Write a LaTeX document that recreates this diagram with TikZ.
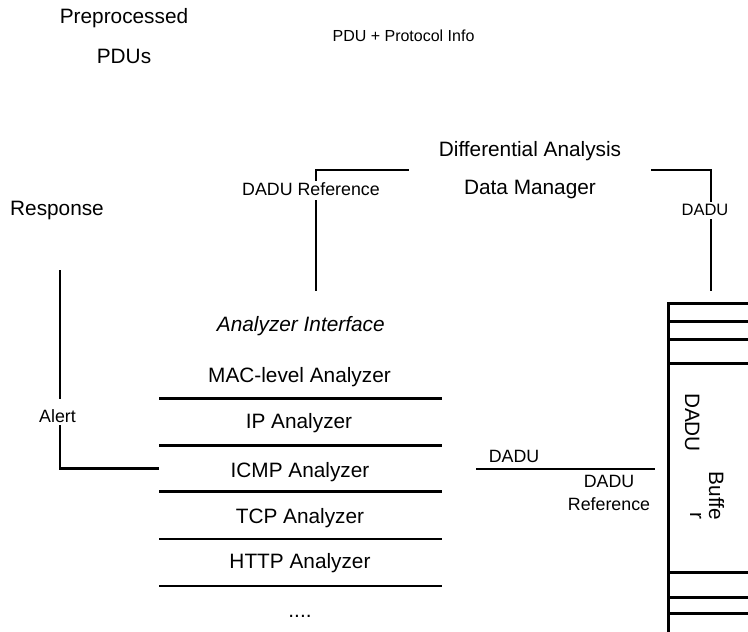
\documentclass[tikz,border=0pt]{standalone}
\usepackage{fontspec}
\setmainfont{Liberation Sans}
\begin{document}
\begin{tikzpicture}[x=1pt,y=-1pt,
  big/.style={font=\fontsize{20.8}{25}\selectfont, inner sep=0pt, anchor=base},
  bigit/.style={font=\fontsize{20.8}{25}\selectfont\itshape, inner sep=0pt, anchor=base},
  small/.style={font=\fontsize{17.8}{21}\selectfont, inner sep=0pt, anchor=base},
  tiny/.style={font=\fontsize{16}{19}\selectfont, inner sep=0pt, anchor=base},
  conn/.style={line width=2.75pt, line join=miter},
  lab/.style={small, fill=white, inner xsep=2pt, inner ysep=0pt},
  rot/.style={big, rotate=-90},
]
\path[use as bounding box] (0,0) rectangle (748,632);

% free texts
\node[big] (pre) at (124,23.5) {Preprocessed};
\node[big] (pdus) at (124,63.5) {PDUs};
\node[tiny] (pinfo) at (403.5,41) {PDU + Protocol Info};
\node[big] (resp) at (57,215) {Response};

% data manager
\node[font=\fontsize{20.8}{37.3}\selectfont, align=center, inner xsep=30pt, inner ysep=0pt]
  (dadm) at (530,170) {Differential Analysis\\Data Manager};

% analyzer stack
\node[bigit] (ai) at (300.8,331.7) {Analyzer Interface};
\node[big] (mac) at (299.5,382) {MAC-level Analyzer};
\node[big] (ip) at (299,428.5) {IP Analyzer};
\node[big] (icmp) at (300,477) {ICMP Analyzer};
\node[big] (tcp) at (300,523) {TCP Analyzer};
\node[big] (http) at (300,568.5) {HTTP Analyzer};
\node[big] (dots) at (300,617) {....};
\foreach \y in {398.3,445.4,491.3,539,586}
  \draw[conn] (159,\y) -- (442,\y);

% buffer
\draw[conn] (748,303.5) -- (668.7,303.5) -- (668.7,640);
\foreach \y in {321.3,339.2,363.3,572.3,597.8,613.3}
  \draw[conn] (668.7,\y) -- (748,\y);
\node[rot] (bdadu) at (685,422.5) {DADU};
\node[rot] (bbuf1) at (709,496) {Buffe};
\node[rot] (bbuf2) at (690,516) {r};

% connector ends
\coordinate (refend) at (316,291);
\coordinate (bufin) at (711,291);
\coordinate (stackL) at (158.5,468.5);
\coordinate (respend) at (60,270);
\coordinate (dL) at (476,469);
\coordinate (dR) at (654.5,469);

% connectors
\draw[conn] (dadm.west) -| (refend);
\draw[conn] (dadm.east) -| (bufin);
\draw[conn] (stackL) -| (respend);
\draw[conn] (dL) -- (dR);

% connector labels
\node[lab, text height=14pt, text depth=5pt] (lref) at (311,195) {DADU Reference};
\node[lab, font=\fontsize{16.5}{20}\selectfont, text height=13.5pt, text depth=4pt] (ldadu1) at (705,215) {DADU};
\node[lab, text height=23pt, text depth=3pt] (lalert) at (57.5,422) {Alert};
\node[small] (ldadu2) at (514,462) {DADU};
\node[small] (ldref1) at (609,487) {DADU};
\node[small] (ldref2) at (609,510) {Reference};
\end{tikzpicture}
\end{document}
